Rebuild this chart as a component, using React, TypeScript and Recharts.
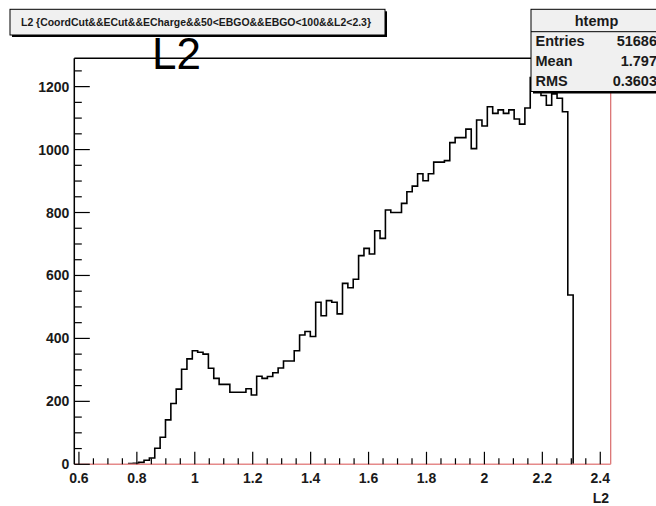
import { Line, LineChart, ReferenceLine, XAxis, YAxis } from "recharts";

// histogram htemp: 100 bins of L2, lower edge XMIN, width BIN_W
const XMIN = 0.584;
const BIN_W = 0.01852;
const YMAX = 1290;

const COUNTS = [
  0, 0, 0, 0, 0, 0, 0, 0, 0, 0,
  2, 3, 6, 13, 20, 51, 86, 141, 193, 239,
  302, 335, 361, 356, 350, 305, 273, 254, 254, 229,
  229, 229, 240, 220, 280, 273, 279, 291, 306, 328,
  328, 361, 411, 422, 406, 515, 472, 520, 515, 478,
  575, 561, 588, 663, 686, 668, 742, 718, 808, 800,
  800, 829, 866, 884, 923, 901, 923, 960, 960, 965,
  1022, 1038, 1038, 1065, 1003, 1094, 1075, 1136, 1115, 1126,
  1115, 1126, 1097, 1081, 1132, 1229, 1200, 1172, 1141, 1177,
  1163, 1120, 538, 0, 0, 0, 0, 0, 0, 0,
];

const X_MAJOR = [0.6, 0.8, 1, 1.2, 1.4, 1.6, 1.8, 2, 2.2, 2.4];
const Y_MAJOR = [0, 200, 400, 600, 800, 1000, 1200];

const STATS = [
  { label: "Entries", value: "51686" },
  { label: "Mean", value: "1.797" },
  { label: "RMS", value: "0.3603" },
];

const TITLE = "L2 {CoordCut&&ECut&&ECharge&&50<EBGO&&EBGO<100&&L2<2.3}";

const XMAX = XMIN + COUNTS.length * BIN_W;
const FONT = "'Liberation Sans', Arial, Helvetica, sans-serif";

// minor ticks every 0.05 on x, every 50 on y
const xTicks: number[] = [];
for (let i = 0; i <= 36; i++) xTicks.push(Math.round((0.6 + i * 0.05) * 100) / 100);
const yTicks: number[] = [];
for (let v = 0; v < YMAX; v += 50) yTicks.push(v);

const first = COUNTS.findIndex((c) => c > 0);
let last = COUNTS.length - 1;
while (last > 0 && COUNTS[last] === 0) last--;

const table = [];
for (let i = 0; i <= COUNTS.length; i++) {
  const inRange = i >= first && i <= last + 1;
  const c = i < COUNTS.length ? COUNTS[i] : COUNTS[COUNTS.length - 1];
  table.push({ x: XMIN + i * BIN_W, count: inRange ? c : null });
}

const isXMajor = (v: number) => X_MAJOR.some((m) => Math.abs(m - v) < 1e-6);

const XTick = (props: any) => {
  const { x, y, payload } = props;
  const major = isXMajor(payload.value);
  return (
    <g>
      <line x1={x} x2={x} y1={y} y2={y - (major ? 12.5 : 6)} stroke="#000" strokeWidth={1.2} />
      {major && (
        <text
          x={x}
          y={y + 18.5}
          textAnchor="middle"
          fontSize={14}
          fontWeight="bold"
          fontFamily={FONT}
          fill="#1a1a1a"
        >
          {String(Number(payload.value.toFixed(2)))}
        </text>
      )}
    </g>
  );
};

const YTick = (props: any) => {
  const { x, y, payload } = props;
  const major = Y_MAJOR.includes(payload.value);
  return (
    <g>
      <line x1={x} x2={x + (major ? 15.5 : 7.5)} y1={y} y2={y} stroke="#000" strokeWidth={1.2} />
      {major && (
        <text
          x={x - 5}
          y={y + 5}
          textAnchor="end"
          fontSize={14}
          fontWeight="bold"
          fontFamily={FONT}
          fill="#1a1a1a"
        >
          {payload.value}
        </text>
      )}
    </g>
  );
};

export default function App() {
  return (
    <div
      style={{
        position: "fixed",
        left: 0,
        top: 0,
        width: 656,
        height: 506,
        background: "#fff",
        overflow: "hidden",
      }}
    >
      <LineChart
        width={656}
        height={506}
        data={table}
        margin={{ top: 58.3, right: 45.3, bottom: 11.7, left: 34.3 }}
      >
        <XAxis
          dataKey="x"
          type="number"
          domain={[XMIN, XMAX]}
          allowDataOverflow
          ticks={xTicks}
          interval={0}
          height={30}
          tickSize={0}
          tickMargin={0}
          tick={<XTick />}
          axisLine={{ stroke: "#e58a8a", strokeWidth: 1.5 }}
        />
        <YAxis
          type="number"
          domain={[0, YMAX]}
          allowDataOverflow
          ticks={yTicks}
          interval={0}
          width={40}
          tickSize={0}
          tickMargin={0}
          tick={<YTick />}
          axisLine={{ stroke: "#000", strokeWidth: 1.5 }}
        />
        <ReferenceLine y={YMAX} stroke="#000" strokeWidth={1.5} />
        <ReferenceLine x={XMAX} stroke="#d96a6a" strokeWidth={1.2} />
        <Line
          dataKey="count"
          type="stepAfter"
          stroke="#000"
          strokeWidth={1.6}
          dot={false}
          activeDot={false}
          connectNulls={false}
          isAnimationActive={false}
        />
      </LineChart>

      <svg
        width={656}
        height={506}
        style={{ position: "absolute", left: 0, top: 0, pointerEvents: "none" }}
        fontFamily={FONT}
      >
        {/* title box */}
        <rect x={12} y={11.3} width={375} height={25.7} fill="#000" />
        <rect x={10} y={9.3} width={375} height={25.7} fill="#f0f0f0" stroke="#000" strokeWidth={1} />
        <text
          x={21}
          y={26}
          fontSize={11}
          fontWeight="bold"
          textLength={350}
          lengthAdjust="spacingAndGlyphs"
          fill="#1a1a1a"
        >
          {TITLE}
        </text>

        {/* big pad label */}
        <text x={152} y={69} fontSize={44} fill="#000">
          L2
        </text>

        {/* stats box */}
        <rect x={533} y={11.3} width={131} height={82.2} fill="#000" />
        <rect x={531} y={9.3} width={131} height={82.2} fill="#f0f0f0" stroke="#000" strokeWidth={1} />
        <line x1={531} x2={662} y1={31.7} y2={31.7} stroke="#000" strokeWidth={1} />
        <text x={596.5} y={26} fontSize={14.5} fontWeight="bold" textAnchor="middle" fill="#1a1a1a">
          htemp
        </text>
        {STATS.map((s, i) => (
          <g key={s.label}>
            <text x={535.5} y={46 + i * 20.2} fontSize={14.5} fontWeight="bold" fill="#1a1a1a">
              {s.label}
            </text>
            <text
              x={657}
              y={46 + i * 20.2}
              fontSize={14.5}
              fontWeight="bold"
              textAnchor="end"
              fill="#1a1a1a"
            >
              {s.value}
            </text>
          </g>
        ))}

        {/* x axis title */}
        <text x={609} y={503} fontSize={14} fontWeight="bold" textAnchor="end" fill="#1a1a1a">
          L2
        </text>
      </svg>
    </div>
  );
}
